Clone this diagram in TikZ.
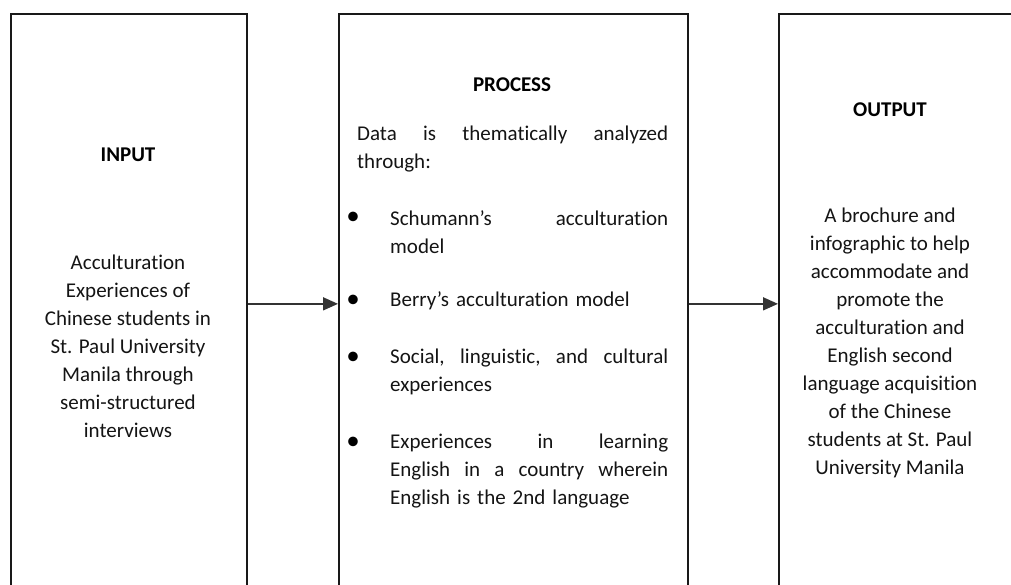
\documentclass[tikz,border=0pt]{standalone}
\usepackage{fontspec}
\setmainfont{Carlito}[Ligatures=NoCommon]
\usetikzlibrary{arrows.meta}

\tikzset{
    stage/.style={draw=black!90, line width=1.7pt, minimum height=580pt, anchor=north west, inner sep=0pt},
    heading/.style={font=\fontsize{21}{28}\selectfont\bfseries, inner sep=0pt},
    body/.style={font=\fontsize{21}{28}\selectfont, inner sep=0pt, text=black!92},
    dot/.style={font=\fontsize{27}{28}\selectfont, inner sep=0pt},
    flow/.style={draw=black!80, line width=1.6pt, -{Triangle[length=15pt,width=13pt]}},
}

\begin{document}
\begin{tikzpicture}[x=1pt, y=-1pt]
                    \useasboundingbox (0,0) rectangle (1011,584);

                    \node [stage, minimum width=236pt] (input)   at (10,13)  {};
                    \node [stage, minimum width=349pt] (process) at (338,13) {};
                    \node [stage, minimum width=250pt] (output)  at (778,13) {};

                    \draw [flow] (input) -- (process);
                    \draw [flow] (process) -- (output);

                    \node [heading] (inputT)   at (128,155) {INPUT};
                    \node [heading] (processT) at (512,85)  {PROCESS};
                    \node [heading] (outputT)  at (890,110) {OUTPUT};

                    \node [body, align=center] (inputB) at (128,346)
                        {Acculturation\\Experiences of\\Chinese students in\\St. Paul University\\Manila through\\semi-structured\\interviews};

                    \node [body, align=center] (outputB) at (890,343)
                        {A brochure and\\infographic to help\\accommodate and\\promote the\\acculturation and\\English second\\language acquisition\\of the Chinese\\students at St. Paul\\University Manila};

                    \node [body, align=left, text width=311pt, anchor=west] (lead) at (357,149)
                        {Data\hfill is\hfill thematically\hfill analyzed\\through:};

                    \node [body, align=left, text width=278pt, anchor=west] (item1) at (390,232)
                        {Schumann’s\hfill acculturation\\model};
                    \node [body, align=left, text width=278pt, anchor=west] (item2) at (390,301)
                        {Berry’s acculturation model};
                    \node [body, align=left, text width=278pt, anchor=west] (item3) at (390,372)
                        {Social,\hfill linguistic,\hfill and\hfill cultural\\experiences};
                    \node [body, align=left, text width=278pt, anchor=west] (item4) at (390,471)
                        {Experiences\hfill in\hfill learning\\English\hfill in\hfill a\hfill country\hfill wherein\\English is the 2nd language};

                    \node [dot] (b1) at (353,218) {•};
                    \node [dot] (b2) at (353,301) {•};
                    \node [dot] (b3) at (353,358) {•};
                    \node [dot] (b4) at (353,443) {•};
                \end{tikzpicture}
\end{document}
